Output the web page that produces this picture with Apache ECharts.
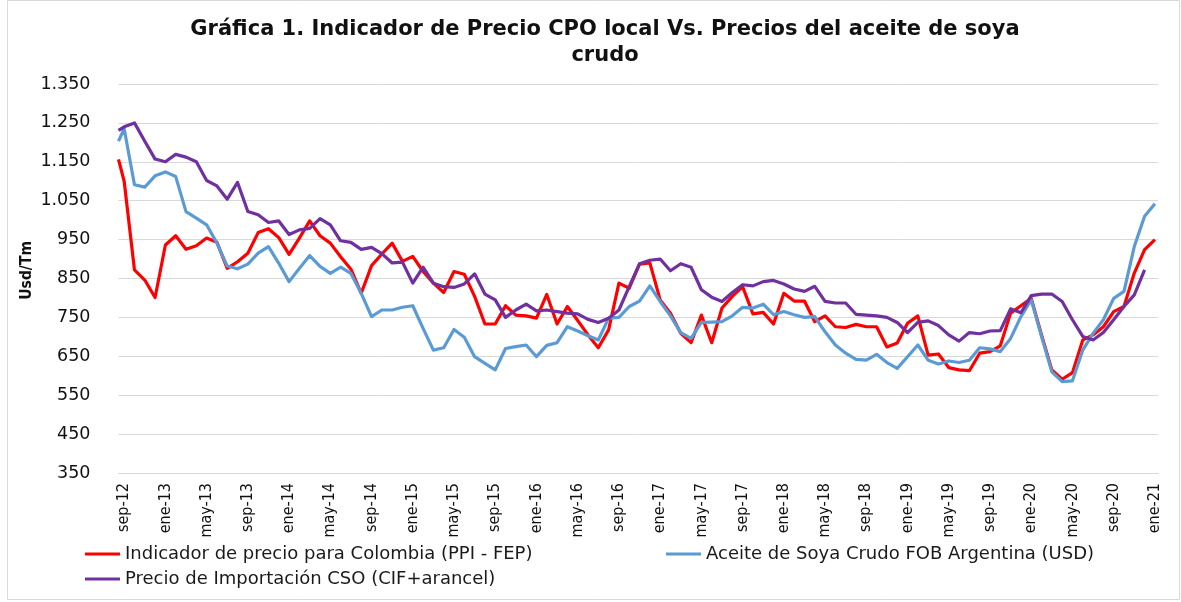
<!DOCTYPE html>
<html>
<head>
<meta charset="utf-8">
<script src="https://cdn.jsdelivr.net/npm/echarts@6/dist/echarts.min.js"></script>
<style>
  html, body { margin: 0; padding: 0; background: #fff; }
  #chart { width: 1181px; height: 602px; }
</style>
</head>
<body>
<div id="chart"></div>
<script>
// months since sep-12; the first reading sits about half a month before sep-12
var firstObs = -0.55;
var tickLabels = ['sep-12', 'ene-13', 'may-13', 'sep-13', 'ene-14', 'may-14', 'sep-14', 'ene-15', 'may-15',
  'sep-15', 'ene-16', 'may-16', 'sep-16', 'ene-17', 'may-17', 'sep-17', 'ene-18', 'may-18', 'sep-18',
  'ene-19', 'may-19', 'sep-19', 'ene-20', 'may-20', 'sep-20', 'ene-21'];
var yTicks = [350, 450, 550, 650, 750, 850, 950, 1050, 1150, 1250, 1350];

var nameRed = 'Indicador de precio para Colombia (PPI - FEP)';
var nameBlue = 'Aceite de Soya Crudo FOB Argentina (USD)';
var namePurple = 'Precio de Importación CSO (CIF+arancel)';

// first value = early reading, then monthly sep-12 .. ene-21
var ppiFep = [1156,
  1100, 872, 846, 801, 936, 960, 925, 934, 954, 943,
  876, 893, 915, 968, 978, 955, 912, 954, 998, 960,
  941, 906, 874, 812, 883, 913, 941, 894, 907, 868,
  838, 814, 868, 861, 804, 733, 733, 780, 756, 754,
  748, 809, 733, 778, 742, 705, 672, 718, 838, 825,
  887, 890, 795, 761, 709, 685, 756, 685, 774, 804,
  829, 759, 763, 733, 812, 792, 792, 739, 754, 726,
  724, 732, 726, 726, 674, 684, 735, 754, 653, 656,
  621, 615, 613, 658, 662, 677, 761, 780, 799, 705,
  615, 591, 608, 692, 705, 726, 765, 778, 864, 924,
  950];

var sbuArgentina = [1203,
  1235, 1091, 1085, 1114, 1124, 1112, 1022, 1005, 988, 941,
  882, 875, 887, 915, 932, 889, 842, 876, 909, 881,
  863, 879, 863, 812, 752, 769, 769, 776, 780, 722,
  666, 672, 719, 699, 649, 632, 615, 670, 675, 679,
  649, 678, 685, 726, 715, 703, 692, 748, 750, 778,
  792, 831, 791, 754, 711, 696, 737, 738, 739, 754,
  776, 774, 784, 757, 765, 757, 750, 752, 713, 679,
  658, 642, 640, 655, 634, 619, 649, 679, 640, 630,
  638, 634, 640, 672, 669, 662, 696, 752, 795, 701,
  610, 585, 587, 666, 709, 744, 799, 817, 932, 1010,
  1042];

var importCso = [1231,
  1240, 1250, 1203, 1157, 1150, 1169, 1162, 1150, 1102, 1088,
  1054, 1097, 1022, 1014, 994, 998, 963, 975, 979, 1004,
  988, 947, 943, 925, 930, 914, 890, 892, 838, 879,
  838, 829, 827, 836, 862, 810, 795, 750, 769, 784,
  767, 769, 765, 761, 759, 745, 737, 748, 769, 829,
  888, 897, 900, 870, 888, 879, 821, 802, 791, 814,
  834, 831, 842, 845, 836, 823, 817, 830, 791, 787,
  787, 758, 756, 754, 750, 737, 711, 737, 741, 729,
  705, 689, 711, 708, 715, 716, 772, 762, 806, 810,
  810, 791, 744, 701, 692, 711, 744, 778, 808, 872];

function pairs(values) {
  return values.map(function (v, i) { return [i === 0 ? firstObs : i - 1, v]; });
}

function fmtThousands(v) {
  if (v < 1000) return String(v);
  return Math.floor(v / 1000) + '.' + String(v % 1000).padStart(3, '0');
}

var chart = echarts.init(document.getElementById('chart'));

var legendText = { fontFamily: 'DejaVu Sans', fontSize: 18, color: '#1a1a1a' };
function legendAt(name, left, top) {
  return {
    data: [name], left: left, top: top, padding: 0, icon: 'rect',
    itemWidth: 35, itemHeight: 3, itemGap: 0, textStyle: legendText
  };
}

chart.setOption({
  animation: false,
  backgroundColor: '#fff',
  title: {
    text: 'Gráfica 1. Indicador de Precio CPO local Vs. Precios del aceite de soya\ncrudo',
    left: 600,
    top: 12,
    textAlign: 'center',
    textStyle: {
      fontFamily: 'DejaVu Sans', fontWeight: 'bold', fontSize: 21,
      color: '#111', lineHeight: 26
    }
  },
  graphic: [
    {
      type: 'rect', silent: true, z: -1,
      shape: { x: 7.5, y: 0.5, width: 1172, height: 599 },
      style: { fill: 'none', stroke: '#d9d9d9', lineWidth: 1 }
    },
    {
      type: 'text', left: 19, top: 241, rotation: Math.PI / 2,
      style: {
        text: 'Usd/Tm', fontFamily: 'DejaVu Sans Condensed', fontWeight: 'bold',
        fontSize: 15.5, fill: '#111'
      }
    }
  ],
  legend: [
    legendAt(nameRed, 85, 545),
    legendAt(nameBlue, 666, 545),
    legendAt(namePurple, 85, 570)
  ],
  grid: { left: 118.5, right: 23, top: 84, bottom: 129 },
  xAxis: {
    type: 'value',
    min: firstObs,
    max: 100.3,
    splitLine: { show: false },
    axisLine: { show: true, lineStyle: { color: '#d9d9d9' } },
    axisTick: { show: false },
    axisLabel: {
      customValues: tickLabels.map(function (t, i) { return i * 4; }),
      formatter: function (v) { return tickLabels[Math.round(v / 4)]; },
      rotate: 90,
      margin: 10,
      fontFamily: 'DejaVu Sans Condensed',
      fontSize: 16,
      color: '#111'
    }
  },
  yAxis: {
    type: 'value',
    min: yTicks[0],
    max: yTicks[yTicks.length - 1],
    interval: 100,
    axisLine: { show: false },
    axisTick: { show: false },
    splitLine: { lineStyle: { color: '#d9d9d9', width: 1 } },
    axisLabel: {
      formatter: fmtThousands,
      margin: 28,
      fontFamily: 'DejaVu Sans',
      fontSize: 17.5,
      color: '#111'
    }
  },
  series: [
    {
      name: nameRed, type: 'line', data: pairs(ppiFep), symbol: 'none',
      itemStyle: { color: '#ff0000' }, lineStyle: { color: '#ff0000', width: 3.2, join: 'round' }
    },
    {
      name: nameBlue, type: 'line', data: pairs(sbuArgentina), symbol: 'none',
      itemStyle: { color: '#5b9bd5' }, lineStyle: { color: '#5b9bd5', width: 3.2, join: 'round' }
    },
    {
      name: namePurple, type: 'line', data: pairs(importCso), symbol: 'none',
      itemStyle: { color: '#7030a0' }, lineStyle: { color: '#7030a0', width: 3.2, join: 'round' }
    }
  ]
});
</script>
</body>
</html>
